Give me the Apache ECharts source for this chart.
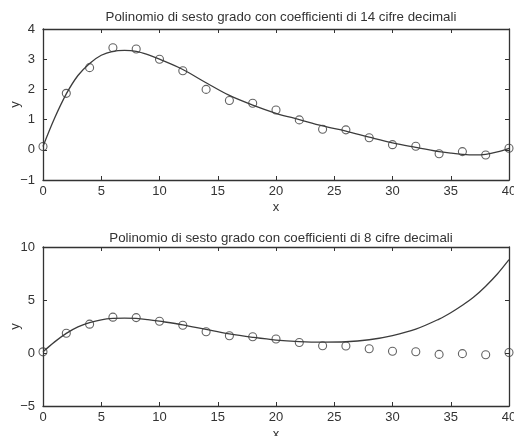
<!DOCTYPE html>
<html>
<head>
<meta charset="utf-8">
<script src="https://cdn.jsdelivr.net/npm/echarts@6/dist/echarts.min.js"></script>
<style>
  html, body { margin: 0; padding: 0; background: #fff; }
  #chart { width: 514px; height: 436px; }
</style>
</head>
<body>
<div id="chart"></div>
<script>
// Sampled data: x positions and measured values
const sampleX = [0, 2, 4, 6, 8, 10, 12, 14, 16, 18, 20, 22, 24, 26, 28, 30, 32, 34, 36, 38, 40];
const sampleY = [0.11, 1.87, 2.72, 3.38, 3.34, 3.0, 2.62, 2.0, 1.63, 1.54, 1.32, 0.99, 0.68, 0.66, 0.40, 0.17, 0.12, -0.13, -0.06, -0.17, 0.05];

// Sixth-degree polynomial evaluated along x
const curveX = [0, 1, 2, 3, 4, 5, 6, 7, 8, 9, 10, 12, 14, 16, 18, 20, 22, 24, 26, 28, 30, 32, 34, 35, 36, 37, 38, 39, 40];
// coefficients kept to 14 decimal digits
const curve14 = [0.11, 1.05, 1.85, 2.46, 2.86, 3.13, 3.26, 3.29, 3.26, 3.15, 3.0, 2.66, 2.22, 1.8, 1.48, 1.21, 1.0, 0.79, 0.62, 0.42, 0.23, 0.08, -0.06, -0.11, -0.15, -0.17, -0.15, -0.07, 0.05];
// coefficients truncated to 8 decimal digits
const curve8 = [0.11, 1.05, 1.85, 2.46, 2.86, 3.13, 3.26, 3.29, 3.26, 3.15, 3.0, 2.66, 2.22, 1.8, 1.48, 1.22, 1.08, 1.03, 1.06, 1.25, 1.65, 2.25, 3.2, 3.8, 4.5, 5.3, 6.3, 7.45, 8.8];

const titles = [
  'Polinomio di sesto grado con coefficienti di 14 cifre decimali',
  'Polinomio di sesto grado con coefficienti di 8 cifre decimali'
];
const xTicks = { min: 0, max: 40, interval: 5 };
const yTicksTop = { min: -1, max: 4, interval: 1 };
const yTicksBottom = { min: -5, max: 10, interval: 5 };

const ink = '#333';
const font = 'Liberation Sans, Arial, Helvetica, sans-serif';
const minus = v => String(v).replace('-', '\u2212');

function pairs(xs, ys) { return xs.map((x, i) => [x, ys[i]]); }

function xAxes(gridIndex, nameGap) {
  const line = { show: true, onZero: false, lineStyle: { color: ink, width: 1.3 } };
  const tick = { show: true, inside: true, length: 4, lineStyle: { color: ink, width: 1 } };
  return [
    Object.assign({ type: 'value', gridIndex, position: 'bottom',
      axisLine: line, axisTick: tick, splitLine: { show: false },
      axisLabel: { color: ink, fontFamily: font, fontSize: 13, margin: 5, formatter: minus },
      name: 'x', nameLocation: 'middle', nameGap, nameMoveOverlap: false,
      nameTextStyle: { color: ink, fontFamily: font, fontSize: 13 } }, xTicks),
    Object.assign({ type: 'value', gridIndex, position: 'top',
      axisLine: line, axisTick: tick, splitLine: { show: false },
      axisLabel: { show: false } }, xTicks)
  ];
}

function yAxes(gridIndex, ticks) {
  const line = { show: true, onZero: false, lineStyle: { color: ink, width: 1.3 } };
  const tick = { show: true, inside: true, length: 4, lineStyle: { color: ink, width: 1 } };
  return [
    Object.assign({ type: 'value', gridIndex, position: 'left',
      axisLine: line, axisTick: tick, splitLine: { show: false },
      axisLabel: { color: ink, fontFamily: font, fontSize: 13, margin: 8, formatter: minus },
      name: 'y', nameLocation: 'middle', nameGap: 21, nameMoveOverlap: false,
      nameTextStyle: { color: ink, fontFamily: font, fontSize: 13 } }, ticks),
    Object.assign({ type: 'value', gridIndex, position: 'right',
      axisLine: line, axisTick: tick, splitLine: { show: false },
      axisLabel: { show: false } }, ticks)
  ];
}

function curveSeries(idx, values) {
  return {
    type: 'line', xAxisIndex: idx * 2, yAxisIndex: idx * 2,
    data: pairs(curveX, values), smooth: 0.35, showSymbol: false,
    lineStyle: { color: '#3c3c3c', width: 1.3 }, silent: true, z: 2
  };
}
function pointSeries(idx) {
  return {
    type: 'scatter', xAxisIndex: idx * 2, yAxisIndex: idx * 2,
    data: pairs(sampleX, sampleY), symbol: 'circle', symbolSize: 8,
    itemStyle: { color: 'rgba(255,255,255,0)', borderColor: '#3c3c3c', borderWidth: 1.1 },
    silent: true, z: 3
  };
}

const chart = echarts.init(document.getElementById('chart'), null, { renderer: 'canvas' });
chart.setOption({
  animation: false,
  backgroundColor: '#fff',
  title: [
    { text: titles[0], left: 276, top: 6, textAlign: 'center',
      textStyle: { color: ink, fontFamily: font, fontSize: 13.3, fontWeight: 'normal' } },
    { text: titles[1], left: 276, top: 227, textAlign: 'center',
      textStyle: { color: ink, fontFamily: font, fontSize: 13.3, fontWeight: 'normal' } }
  ],
  grid: [
    { left: 43, right: 5, top: 29, height: 151, containLabel: false, outerBoundsMode: 'none' },
    { left: 43, right: 5, top: 247, height: 159, containLabel: false, outerBoundsMode: 'none' }
  ],
  xAxis: xAxes(0, 21).concat(xAxes(1, 22)),
  yAxis: yAxes(0, yTicksTop).concat(yAxes(1, yTicksBottom)),
  series: [curveSeries(0, curve14), pointSeries(0), curveSeries(1, curve8), pointSeries(1)]
});
</script>
</body>
</html>
